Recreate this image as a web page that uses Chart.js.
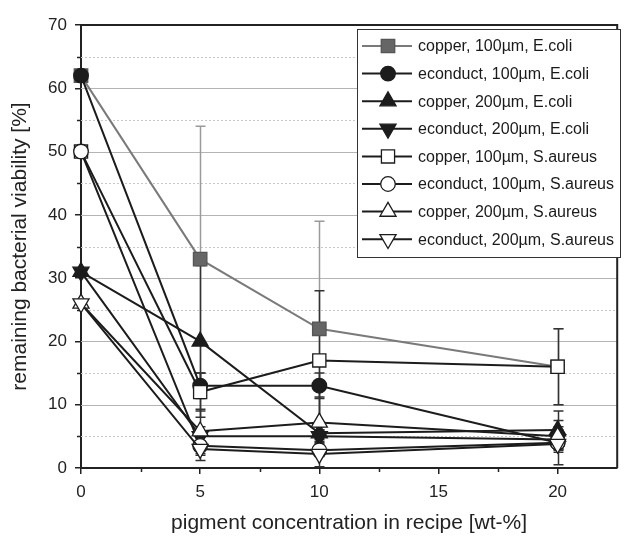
<!DOCTYPE html>
<html><head><meta charset="utf-8">
<script src="https://cdn.jsdelivr.net/npm/chart.js@4.4.1/dist/chart.umd.min.js"></script>
<style>html,body{margin:0;padding:0;background:#fff;}#wrap{width:628px;height:538px;}</style>
</head><body><div id="wrap"><canvas id="c" width="628" height="538"></canvas></div>
<script>
// ---- data ----
const concentrations = [0, 5, 10, 20];
const xTickValues = [0, 5, 10, 15, 20];
const xMinorTicks = [2.5, 7.5, 12.5, 17.5];
const yTickValues = [0, 10, 20, 30, 40, 50, 60, 70];
const yMinorTicks = [5, 15, 25, 35, 45, 55, 65];

const seriesNames = [
  'copper, 100\u00b5m, E.coli',
  'econduct, 100\u00b5m, E.coli',
  'copper, 200\u00b5m, E.coli',
  'econduct, 200\u00b5m, E.coli',
  'copper, 100\u00b5m, S.aureus',
  'econduct, 100\u00b5m, S.aureus',
  'copper, 200\u00b5m, S.aureus',
  'econduct, 200\u00b5m, S.aureus'
];
const copper100Ecoli     = [62, 33, 22, 16];
const econduct100Ecoli   = [62, 13, 13, 4];
const copper200Ecoli     = [31, 20, 5.5, 6];
const econduct200Ecoli   = [31, 5, 5, 4.5];
const copper100Saureus   = [50, 12, 17, 16];
const econduct100Saureus = [50, 3.5, 2.8, 4];
const copper200Saureus   = [26, 5.8, 7.2, 5];
const econduct200Saureus = [26, 3, 2.2, 3.8];

const copper100EcoliErr     = [0, 21, 17, 6];
const econduct100EcoliErr   = [0, 2, 2, 3.5];
const copper200EcoliErr     = [0, 12, 1, 3];
const econduct200EcoliErr   = [0, 1.5, 1, 1.5];
const copper100SaureusErr   = [0, 3, 11, 6];
const econduct100SaureusErr = [0, 1.5, 1, 1.5];
const copper200SaureusErr   = [0, 3.5, 4, 1.5];
const econduct200SaureusErr = [0, 1.8, 2, 1];

const seriesValues = [copper100Ecoli, econduct100Ecoli, copper200Ecoli, econduct200Ecoli,
  copper100Saureus, econduct100Saureus, copper200Saureus, econduct200Saureus];
const seriesErrors = [copper100EcoliErr, econduct100EcoliErr, copper200EcoliErr, econduct200EcoliErr,
  copper100SaureusErr, econduct100SaureusErr, copper200SaureusErr, econduct200SaureusErr];

// ---- styles ----
const FONT = '"Liberation Sans", Arial, Helvetica, sans-serif';
const DARK = '#1c1c1c';
const GRAY = '#7a7a7a';
const styles =    ['rect', 'circle', 'triangle', 'triangle', 'rect', 'circle', 'triangle', 'triangle'];
const rotations = [0, 0, 0, 180, 0, 0, 0, 180];
const radii =     [9.5, 7.3, 9.3, 9.3, 9.3, 7.3, 9.3, 9.3];
const lineColors = [GRAY, DARK, DARK, DARK, DARK, DARK, DARK, DARK];
const fills =      ['#666666', DARK, DARK, DARK, '#ffffff', '#ffffff', '#ffffff', '#ffffff'];
const edgeColors = ['#555555', DARK, DARK, DARK, DARK, DARK, DARK, DARK];
const errColors =  ['#9a9a9a', '#333', '#333', '#333', '#333', '#333', '#333', '#333'];

const datasets = seriesValues.map((vals, i) => ({
  label: seriesNames[i],
  data: vals.map((v, j) => ({x: concentrations[j], y: v})),
  errors: seriesErrors[i],
  borderColor: lineColors[i],
  borderWidth: 2,
  backgroundColor: fills[i],
  pointBackgroundColor: fills[i],
  pointBorderColor: edgeColors[i],
  pointBorderWidth: 1.3,
  pointStyle: styles[i],
  pointRotation: rotations[i],
  pointRadius: radii[i],
  pointHoverRadius: radii[i],
  tension: 0,
  fill: false,
  clip: false,
  order: seriesValues.length - i
}));

const backgroundPlugin = {
  id: 'bg',
  beforeDatasetsDraw(chart) {
    const {ctx, chartArea: a, scales: {x, y}} = chart;
    ctx.save();
    ctx.strokeStyle = '#b4b4b4'; ctx.lineWidth = 1.2; ctx.setLineDash([]);
    yTickValues.forEach(v => {
      if (v === 0 || v === 70) return;
      const py = Math.round(y.getPixelForValue(v)) + 0.5;
      ctx.beginPath(); ctx.moveTo(a.left, py); ctx.lineTo(a.right, py); ctx.stroke();
    });
    ctx.strokeStyle = '#c8c8c8'; ctx.lineWidth = 1; ctx.setLineDash([2, 2]);
    yMinorTicks.forEach(v => {
      const py = Math.round(y.getPixelForValue(v)) + 0.5;
      ctx.beginPath(); ctx.moveTo(a.left, py); ctx.lineTo(a.right, py); ctx.stroke();
    });
    ctx.setLineDash([]);
    ctx.strokeStyle = '#222'; ctx.lineWidth = 1.5;
    yMinorTicks.forEach(v => {
      const py = Math.round(y.getPixelForValue(v)) + 0.5;
      ctx.beginPath(); ctx.moveTo(a.left - 4, py); ctx.lineTo(a.left, py); ctx.stroke();
    });
    xMinorTicks.forEach(v => {
      const px = Math.round(x.getPixelForValue(v)) + 0.5;
      ctx.beginPath(); ctx.moveTo(px, a.bottom); ctx.lineTo(px, a.bottom + 4); ctx.stroke();
    });
    ctx.lineWidth = 2; ctx.strokeStyle = '#222';
    ctx.beginPath();
    ctx.moveTo(a.left, a.top); ctx.lineTo(a.right, a.top); ctx.lineTo(a.right, a.bottom);
    ctx.stroke();
    chart.data.datasets.forEach((ds, i) => {
      ctx.strokeStyle = errColors[i]; ctx.lineWidth = 1.5;
      ds.data.forEach((p, j) => {
        const e = ds.errors[j];
        if (!e) return;
        const px = Math.round(x.getPixelForValue(p.x)) + 0.5;
        const yTop = y.getPixelForValue(p.y + e);
        const yBot = y.getPixelForValue(Math.max(p.y - e, 0));
        ctx.beginPath();
        ctx.moveTo(px, yTop); ctx.lineTo(px, yBot);
        ctx.moveTo(px - 5, yTop); ctx.lineTo(px + 5, yTop);
        ctx.moveTo(px - 5, yBot); ctx.lineTo(px + 5, yBot);
        ctx.stroke();
      });
    });
    ctx.restore();
  }
};

const legendPlugin = {
  id: 'customLegend',
  afterDraw(chart) {
    const {ctx} = chart;
    const bx = 357, by = 29, bw = 263, bh = 228;
    ctx.save();
    ctx.fillStyle = '#ffffff';
    ctx.fillRect(bx, by, bw, bh);
    ctx.strokeStyle = '#333'; ctx.lineWidth = 1;
    ctx.strokeRect(bx + 0.5, by + 0.5, bw, bh);
    ctx.font = '16px ' + FONT;
    ctx.textBaseline = 'middle';
    chart.data.datasets.forEach((ds, i) => {
      const ry = by + 17 + i * 27.6;
      ctx.strokeStyle = lineColors[i]; ctx.lineWidth = 2;
      ctx.beginPath(); ctx.moveTo(bx + 5, ry); ctx.lineTo(bx + 55, ry); ctx.stroke();
      ctx.fillStyle = fills[i]; ctx.strokeStyle = edgeColors[i]; ctx.lineWidth = 1.3;
      Chart.helpers.drawPoint(ctx, {pointStyle: styles[i], radius: radii[i], rotation: rotations[i], borderWidth: 1.3}, bx + 31, ry);
      ctx.fillStyle = '#1a1a1a';
      ctx.fillText(ds.label, bx + 61, ry + 1);
    });
    ctx.restore();
  }
};

new Chart(document.getElementById('c'), {
  type: 'line',
  data: {datasets},
  plugins: [backgroundPlugin, legendPlugin],
  options: {
    responsive: false,
    animation: false,
    devicePixelRatio: 1,
    layout: {padding: {top: 25, right: 7, left: 0, bottom: 0}},
    plugins: {legend: {display: false}, tooltip: {enabled: false}},
    scales: {
      x: {
        type: 'linear', min: 0, max: 22.5,
        afterBuildTicks: s => { s.ticks = xTickValues.map(v => ({value: v})); },
        afterFit: s => { s.height = 70; },
        ticks: {font: {family: FONT, size: 17}, color: '#222', padding: 8, maxRotation: 0},
        grid: {drawOnChartArea: false, drawTicks: true, tickLength: 6, color: '#222', lineWidth: 1.5},
        border: {display: true, color: '#222', width: 2},
        title: {display: true, text: 'pigment concentration in recipe [wt-%]', font: {family: FONT, size: 21}, color: '#222', padding: {top: 4, bottom: 2}}
      },
      y: {
        min: 0, max: 70,
        afterBuildTicks: s => { s.ticks = yTickValues.map(v => ({value: v})); },
        afterFit: s => { s.width = 81; },
        ticks: {font: {family: FONT, size: 17}, color: '#222', padding: 8},
        grid: {drawOnChartArea: false, drawTicks: true, tickLength: 6, color: '#222', lineWidth: 1.5},
        border: {display: true, color: '#222', width: 2},
        title: {display: true, text: 'remaining bacterial viability [%]', font: {family: FONT, size: 21}, color: '#222', padding: {top: 8, bottom: 4}}
      }
    }
  }
});
</script></body></html>
